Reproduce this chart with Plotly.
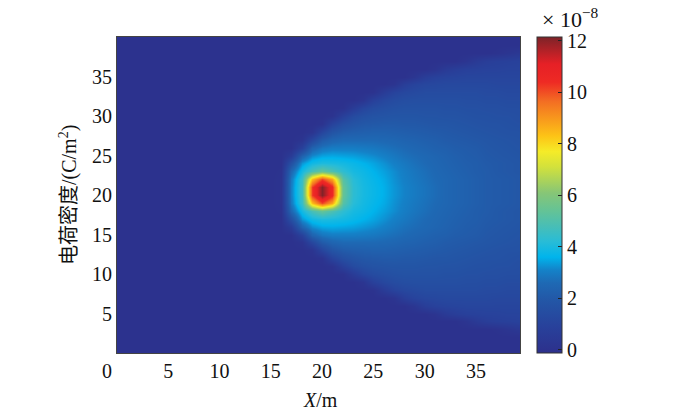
import plotly.graph_objects as go

# ---------------- data (unit 1e-8 C/m^2) ----------------
x_nodes = list(range(0, 41))          # X / m
y_nodes = list(range(0, 41))          # Y / m
y_center = 20.5                       # plume centre line (field is mirror-symmetric about it)

# rows: distance from centre line d = 0.5, 1.5, ..., 20.5 ; columns: x = 0 .. 40
Z0 = [0.0] * 16
rows_by_distance = [
    Z0 + [0.1, 3.0, 4.6, 10.2, 12.1, 10.6, 5.4, 4.3, 3.95, 3.75, 3.55, 3.3, 3.1, 2.95, 2.8, 2.65, 2.5, 2.4, 2.3, 2.2, 2.1, 2.05, 2.0, 1.95, 1.9],
    Z0 + [0.1, 2.9, 4.5, 8.4, 10.1, 8.8, 5.1, 4.2, 3.9, 3.7, 3.5, 3.25, 3.05, 2.9, 2.75, 2.6, 2.5, 2.4, 2.3, 2.2, 2.1, 2.05, 2.0, 1.95, 1.9],
    Z0 + [0.05, 2.5, 3.9, 4.8, 5.4, 4.9, 4.3, 3.95, 3.8, 3.6, 3.4, 3.2, 3.0, 2.85, 2.7, 2.55, 2.45, 2.35, 2.25, 2.15, 2.1, 2.0, 1.95, 1.9, 1.9],
    Z0 + [0.0, 1.6, 3.3, 3.85, 4.05, 4.0, 3.9, 3.75, 3.6, 3.45, 3.25, 3.05, 2.9, 2.75, 2.6, 2.5, 2.4, 2.3, 2.2, 2.15, 2.05, 2.0, 1.95, 1.9, 1.85],
    Z0 + [0.0, 0.6, 2.4, 3.2, 3.45, 3.5, 3.45, 3.4, 3.3, 3.2, 3.05, 2.9, 2.75, 2.65, 2.55, 2.45, 2.35, 2.25, 2.15, 2.1, 2.0, 1.95, 1.9, 1.85, 1.8],
    Z0 + [0.0, 0.0, 0.9, 2.4, 2.85, 3.0, 3.0, 3.0, 2.95, 2.9, 2.8, 2.7, 2.6, 2.5, 2.4, 2.3, 2.25, 2.15, 2.1, 2.05, 1.95, 1.9, 1.85, 1.8, 1.75],
    Z0 + [0.0, 0.0, 0.15, 1.2, 2.1, 2.45, 2.6, 2.6, 2.6, 2.6, 2.55, 2.5, 2.4, 2.35, 2.25, 2.2, 2.1, 2.05, 2.0, 1.95, 1.9, 1.85, 1.8, 1.75, 1.7],
    Z0 + [0.0, 0.0, 0.0, 0.15, 1.1, 1.8, 2.1, 2.2, 2.25, 2.3, 2.3, 2.25, 2.2, 2.15, 2.1, 2.05, 2.0, 1.95, 1.9, 1.85, 1.8, 1.75, 1.7, 1.7, 1.65],
    Z0 + [0.0, 0.0, 0.0, 0.0, 0.1, 1.0, 1.55, 1.8, 1.95, 2.0, 2.05, 2.05, 2.0, 2.0, 1.95, 1.9, 1.9, 1.85, 1.8, 1.75, 1.7, 1.7, 1.65, 1.6, 1.6],
    Z0 + [0.0, 0.0, 0.0, 0.0, 0.0, 0.1, 0.85, 1.35, 1.6, 1.75, 1.8, 1.85, 1.85, 1.85, 1.8, 1.8, 1.75, 1.75, 1.7, 1.65, 1.65, 1.6, 1.6, 1.55, 1.5],
    Z0 + [0.0, 0.0, 0.0, 0.0, 0.0, 0.0, 0.05, 0.6, 1.1, 1.4, 1.55, 1.65, 1.7, 1.7, 1.7, 1.7, 1.65, 1.65, 1.6, 1.6, 1.55, 1.55, 1.5, 1.5, 1.45],
    Z0 + [0.0, 0.0, 0.0, 0.0, 0.0, 0.0, 0.0, 0.0, 0.2, 0.85, 1.2, 1.4, 1.5, 1.55, 1.55, 1.55, 1.55, 1.55, 1.5, 1.5, 1.45, 1.45, 1.4, 1.4, 1.4],
    Z0 + [0.0, 0.0, 0.0, 0.0, 0.0, 0.0, 0.0, 0.0, 0.0, 0.05, 0.6, 1.0, 1.2, 1.3, 1.4, 1.4, 1.4, 1.4, 1.4, 1.4, 1.35, 1.35, 1.3, 1.3, 1.3],
    Z0 + [0.0, 0.0, 0.0, 0.0, 0.0, 0.0, 0.0, 0.0, 0.0, 0.0, 0.0, 0.15, 0.7, 1.0, 1.15, 1.2, 1.25, 1.25, 1.25, 1.25, 1.25, 1.2, 1.2, 1.2, 1.2],
    Z0 + [0.0, 0.0, 0.0, 0.0, 0.0, 0.0, 0.0, 0.0, 0.0, 0.0, 0.0, 0.0, 0.0, 0.25, 0.7, 0.9, 1.0, 1.05, 1.1, 1.1, 1.1, 1.1, 1.1, 1.1, 1.1],
    Z0 + [0.0, 0.0, 0.0, 0.0, 0.0, 0.0, 0.0, 0.0, 0.0, 0.0, 0.0, 0.0, 0.0, 0.0, 0.0, 0.15, 0.5, 0.7, 0.85, 0.9, 0.95, 0.95, 1.0, 1.0, 1.0],
    Z0 + [0.0, 0.0, 0.0, 0.0, 0.0, 0.0, 0.0, 0.0, 0.0, 0.0, 0.0, 0.0, 0.0, 0.0, 0.0, 0.0, 0.0, 0.0, 0.2, 0.5, 0.7, 0.8, 0.85, 0.9, 0.9],
    Z0 + [0.0, 0.0, 0.0, 0.0, 0.0, 0.0, 0.0, 0.0, 0.0, 0.0, 0.0, 0.0, 0.0, 0.0, 0.0, 0.0, 0.0, 0.0, 0.0, 0.0, 0.0, 0.05, 0.2, 0.35, 0.4],
    Z0 + [0.0] * 25,
    Z0 + [0.0] * 25,
    Z0 + [0.0] * 25,
]

x_tick_vals = [0, 5, 10, 15, 20, 25, 30, 35]
x_tick_labels = ["0", "5", "10", "15", "20", "25", "30", "35"]
y_tick_vals = [5, 10, 15, 20, 25, 30, 35]
y_tick_labels = ["5", "10", "15", "20", "25", "30", "35"]
cbar_tick_vals = [0, 2, 4, 6, 8, 10, 12]
cbar_tick_labels = ["0", "2", "4", "6", "8", "10", "12"]

# colour bar look (muted jet as printed): value -> rgb
cmap_vals = [-0.12, 0.9, 1.9, 2.6, 3.1, 3.6, 4.2, 4.8, 5.4, 6.1, 7.1, 7.7, 8.3, 8.7, 9.65, 10.4, 11.1, 12.15]
cmap_cols = ["rgb(45,48,140)", "rgb(40,65,155)", "rgb(35,86,166)", "rgb(30,105,180)", "rgb(20,130,200)",
             "rgb(0,180,236)", "rgb(40,188,215)", "rgb(72,190,182)", "rgb(100,195,150)", "rgb(135,198,118)",
             "rgb(210,225,60)", "rgb(245,235,40)", "rgb(253,196,22)", "rgb(250,170,26)", "rgb(243,110,35)",
             "rgb(238,42,36)", "rgb(230,32,38)", "rgb(125,35,40)"]
zmin, zmax = cmap_vals[0], cmap_vals[-1]

# ---------------- build grid (mirror about the centre line) ----------------
z = []
for yv in y_nodes:
    d = abs(yv - y_center)
    idx = min(int(d - 0.5 + 1e-9), len(rows_by_distance) - 1)
    z.append(rows_by_distance[idx])

colorscale = [[(v - zmin) / (zmax - zmin), c] for v, c in zip(cmap_vals, cmap_cols)]

SERIF = "Liberation Serif, Noto Sans CJK SC, serif"
FS = 20

fig = go.Figure()
fig.add_trace(go.Heatmap(
    x=x_nodes, y=y_nodes, z=z,
    zmin=zmin, zmax=zmax, zsmooth="best",
    colorscale=colorscale,
    colorbar=dict(
        x=1.042, xanchor="left", xpad=0, ypad=0,
        y=0.5, yanchor="middle", len=1.0, lenmode="fraction",
        thickness=25, outlinewidth=1, outlinecolor="#333",
        tickvals=cbar_tick_vals, ticktext=cbar_tick_labels,
        ticks="inside", ticklen=4, tickcolor="#222",
        tickfont=dict(family=SERIF, size=FS, color="#111"),
    ),
    showscale=True,
))

pad0 = [lab + ("\u00a0" * 4 if lab == "0" else "") for lab in x_tick_labels]

fig.update_layout(
    width=674, height=420,
    margin=dict(l=117, r=154, t=37, b=67, autoexpand=False),
    paper_bgcolor="white", plot_bgcolor="white",
    font=dict(family=SERIF, size=FS, color="#111"),
    xaxis=dict(range=[0, 39.3], tickvals=x_tick_vals, ticktext=pad0,
               showline=True, mirror=True, linecolor="#444", linewidth=1,
               ticks="", showgrid=False, zeroline=False,
               tickfont=dict(family=SERIF, size=FS, color="#111")),
    yaxis=dict(range=[0, 40], tickvals=y_tick_vals, ticktext=y_tick_labels,
               showline=True, mirror=True, linecolor="#444", linewidth=1,
               ticks="", showgrid=False, zeroline=False,
               tickfont=dict(family=SERIF, size=FS, color="#111")),
    annotations=[
        dict(text="<i>X</i>/m", xref="paper", yref="paper", x=0.504, y=0,
             yshift=-47, xanchor="center", yanchor="middle", showarrow=False,
             font=dict(family=SERIF, size=FS, color="#111")),
        dict(text="电荷密度/(C/m<sup>2</sup>)", xref="paper", yref="paper", x=0, y=0.5,
             xshift=-49, xanchor="center", yanchor="middle", textangle=-90, showarrow=False,
             font=dict(family=SERIF, size=FS, color="#111")),
        dict(text="× 10<sup>−8</sup>", xref="paper", yref="paper", x=1, y=1,
             xshift=50, yshift=19, xanchor="center", yanchor="middle", showarrow=False,
             font=dict(family=SERIF, size=22, color="#111")),
    ],
)

fig.write_html("out.html", config={"displayModeBar": False},
               post_script="document.body.style.margin='0';")
